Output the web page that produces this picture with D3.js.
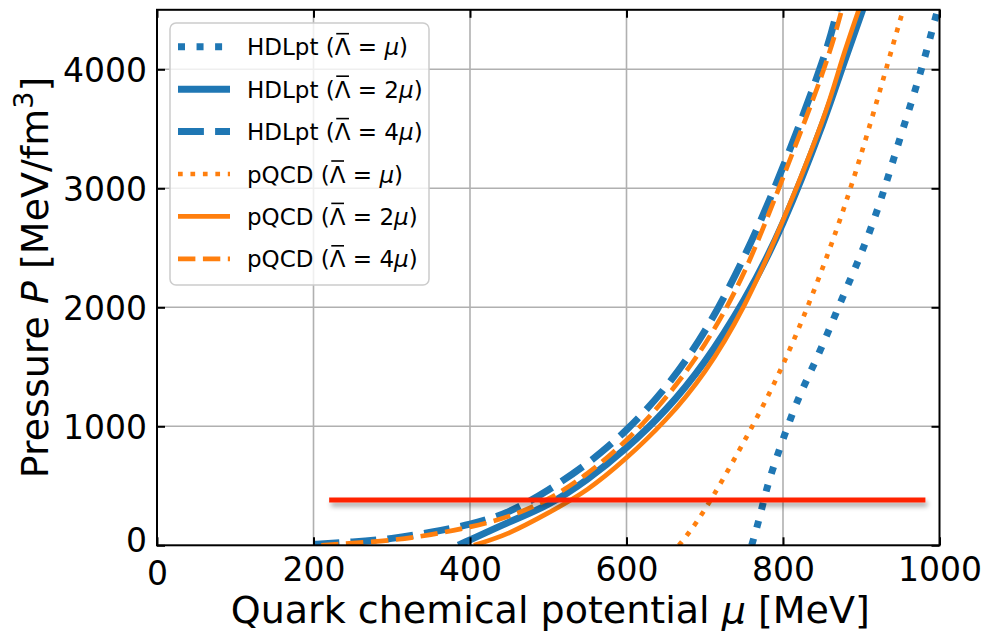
<!DOCTYPE html>
<html>
<head>
<meta charset="utf-8">
<script src="https://cdn.jsdelivr.net/npm/d3@7"></script>
<style>
  html, body { margin: 0; padding: 0; background: #fff; }
  svg { display: block; font-family: "DejaVu Sans", sans-serif; }
</style>
</head>
<body>
<svg id="chart" width="982" height="633"></svg>
<script>
// ---- data ----
const xTicks = [0, 200, 400, 600, 800, 1000];
const yTicks = [0, 1000, 2000, 3000, 4000];

const hdl1Mu = [760, 770, 780, 790, 800, 815, 830, 850, 875, 900, 925, 950, 975, 1000];
const hdl1P  = [0, 235, 490, 700, 890, 1155, 1385, 1675, 2065, 2455, 2905, 3430, 3960, 4560];

const hdl2Mu = [385, 400, 450, 500, 550, 600, 650, 700, 750, 800, 850, 875, 905];
const hdl2P  = [0, 45, 195, 345, 555, 820, 1140, 1545, 2060, 2710, 3530, 4000, 4560];

const hdl4Mu = [200, 250, 300, 350, 400, 450, 500, 550, 600, 650, 700, 750, 800, 850, 870];
const hdl4P  = [8, 28, 58, 110, 178, 285, 465, 690, 970, 1330, 1800, 2420, 3180, 4060, 4520];

const pq1Mu = [667, 700, 750, 800, 850, 900, 950, 958];
const pq1P  = [0, 300, 870, 1520, 2320, 3290, 4420, 4560];

const pq2Mu = [405, 450, 500, 550, 600, 650, 700, 750, 800, 850, 875, 900];
const pq2P  = [0, 105, 272, 470, 735, 1055, 1460, 2010, 2730, 3560, 4070, 4560];

const pq4Mu = [210, 250, 300, 350, 400, 450, 500, 550, 600, 650, 700, 750, 800, 850, 876];
const pq4P  = [0, 18, 45, 90, 155, 245, 390, 605, 885, 1240, 1690, 2290, 3090, 3960, 4520];

const limitMu = [220, 982];
const limitP  = [380, 380];

const seriesNames = [
  ["HDLpt", ""], ["HDLpt", "2"], ["HDLpt", "4"],
  ["pQCD", ""], ["pQCD", "2"], ["pQCD", "4"]
];

// ---- layout ----
const svg = d3.select("#chart");
const L = 157, R = 939.5, B = 545.3, T = 9.8;
const x = d3.scaleLinear().domain([0, 1000]).range([L, R]);
const y = d3.scaleLinear().domain([0, 4500]).range([B, T]);

const blue = "#1f77b4", orange = "#ff7f0e";
const wB = 7, wO = 4.7;
const styles = [
  {c: blue, w: wB, d: `${wB},${(1.65*wB).toFixed(2)}`},
  {c: blue, w: wB, d: null},
  {c: blue, w: wB, d: `${(3.7*wB).toFixed(2)},${(1.6*wB).toFixed(2)}`},
  {c: orange, w: wO, d: `${wO},${(1.65*wO).toFixed(2)}`},
  {c: orange, w: wO, d: null},
  {c: orange, w: wO, d: `${(3.7*wO).toFixed(2)},${(1.6*wO).toFixed(2)}`}
];
const seriesData = [
  [hdl1Mu, hdl1P], [hdl2Mu, hdl2P], [hdl4Mu, hdl4P],
  [pq1Mu, pq1P], [pq2Mu, pq2P], [pq4Mu, pq4P]
];

const defs = svg.append("defs");
defs.append("clipPath").attr("id", "clip")
  .append("rect").attr("x", L).attr("y", T).attr("width", R - L).attr("height", B - T);
const f = defs.append("filter").attr("id", "shadow").attr("filterUnits", "userSpaceOnUse")
  .attr("x", 0).attr("y", 0).attr("width", 982).attr("height", 633);
f.append("feDropShadow").attr("dx", 2).attr("dy", 4).attr("stdDeviation", 2.5)
  .attr("flood-color", "#000").attr("flood-opacity", 0.35);

// grid
const grid = svg.append("g");
grid.selectAll(".gx").data(xTicks.slice(1, -1)).enter().append("line")
  .attr("x1", d => x(d)).attr("x2", d => x(d)).attr("y1", B).attr("y2", T)
  .attr("stroke", "#b0b0b0").attr("stroke-width", 1.6);
grid.selectAll(".gy").data(yTicks.slice(1)).enter().append("line")
  .attr("x1", L).attr("x2", R).attr("y1", d => y(d)).attr("y2", d => y(d))
  .attr("stroke", "#b0b0b0").attr("stroke-width", 1.6);

// curves
const line = d3.line().x(d => x(d[0])).y(d => y(d[1])).curve(d3.curveNatural);
const plot = svg.append("g").attr("clip-path", "url(#clip)");
seriesData.forEach((s, i) => {
  const pts = s[0].map((m, k) => [m, s[1][k]]);
  const p = plot.append("path").datum(pts).attr("d", line)
    .attr("fill", "none").attr("stroke", styles[i].c).attr("stroke-width", styles[i].w)
    .attr("stroke-linecap", "butt").attr("stroke-linejoin", "round");
  if (styles[i].d) p.attr("stroke-dasharray", styles[i].d);
});

// limit line
svg.append("path").datum(limitMu.map((m, k) => [m, limitP[k]]))
  .attr("d", d3.line().x(d => x(d[0])).y(d => y(d[1])))
  .attr("stroke", "#ff2400").attr("stroke-width", 5).attr("fill", "none")
  .attr("filter", "url(#shadow)");

// axes
const tickFont = 33;
const fmt = d3.format("d");
const axB = svg.append("g").attr("transform", `translate(0,${B})`)
  .call(d3.axisBottom(x).tickValues(xTicks).tickFormat(fmt).tickSizeInner(-8).tickSizeOuter(0).tickPadding(12));
const axT = svg.append("g").attr("transform", `translate(0,${T})`)
  .call(d3.axisTop(x).tickValues(xTicks).tickSizeInner(-8).tickSizeOuter(0).tickFormat(""));
const axL = svg.append("g").attr("transform", `translate(${L},0)`)
  .call(d3.axisLeft(y).tickValues(yTicks).tickFormat(fmt).tickSizeInner(-8).tickSizeOuter(0).tickPadding(10));
const axR = svg.append("g").attr("transform", `translate(${R},0)`)
  .call(d3.axisRight(y).tickValues(yTicks).tickSizeInner(-8).tickSizeOuter(0).tickFormat(""));
[axB, axT, axL, axR].forEach(a => {
  a.select(".domain").remove();
  a.selectAll(".tick line").attr("stroke", "#000").attr("stroke-width", 2);
  a.selectAll("text").attr("font-family", "DejaVu Sans").attr("font-size", tickFont).attr("fill", "#000");
});
axL.selectAll(".tick text").attr("dy", "0.36em");
axB.selectAll(".tick text").attr("dy", "0.72em");
axL.selectAll(".tick").filter(d => d === 0).select("text").attr("dy", "0.2em");
axB.selectAll(".tick").filter(d => d === 0).select("text").attr("dy", "0.85em");

svg.append("rect").attr("x", L).attr("y", T).attr("width", R - L).attr("height", B - T)
  .attr("fill", "none").attr("stroke", "#000").attr("stroke-width", 2);

// axis labels
const labelFont = 38;
const xl = svg.append("text").attr("x", (L + R) / 2 + 2).attr("y", 623)
  .attr("text-anchor", "middle").attr("font-size", labelFont);
xl.append("tspan").text("Quark chemical potential ");
xl.append("tspan").attr("font-style", "italic").text("μ");
xl.append("tspan").text(" [MeV]");

const yl = svg.append("text").attr("transform", `translate(48,${(T + B) / 2}) rotate(-90)`)
  .attr("text-anchor", "middle").attr("font-size", labelFont);
yl.append("tspan").text("Pressure ");
yl.append("tspan").attr("font-style", "italic").text("P");
yl.append("tspan").text(" [MeV/fm");
yl.append("tspan").attr("font-size", 27).attr("dy", -15).text("3");
yl.append("tspan").attr("dy", 15).text("]");

// legend
const lg = svg.append("g");
lg.append("rect").attr("x", 170).attr("y", 23).attr("width", 259).attr("height", 262)
  .attr("rx", 6).attr("fill", "#fff").attr("fill-opacity", 0.8)
  .attr("stroke", "#cccccc").attr("stroke-width", 1.5);
const rowY = [46.7, 89.2, 131.6, 174, 216.4, 258.8];
seriesNames.forEach((nm, i) => {
  const yy = rowY[i];
  const h = lg.append("line").attr("x1", 178).attr("x2", 230).attr("y1", yy).attr("y2", yy)
    .attr("stroke", styles[i].c).attr("stroke-width", styles[i].w);
  if (styles[i].d) h.attr("stroke-dasharray", styles[i].d);
  const t = lg.append("text").attr("x", 247).attr("y", yy + 8.5).attr("font-size", 23);
  t.append("tspan").text(nm[0] + " (");
  t.append("tspan").text("Λ = " + nm[1]);
  t.append("tspan").attr("font-style", "italic").text("μ");
  t.append("tspan").text(")");
  // bar over Lambda
  const idx = nm[0].length + 2;
  let bx = 0, bw = 14;
  try {
    const r = t.node().getExtentOfChar(idx);
    bx = r.x; bw = r.width;
  } catch (e) { bx = 247 + 12.5 * nm[0].length; }
  lg.append("line").attr("x1", bx + 1.5).attr("x2", bx + bw - 1.5)
    .attr("y1", yy - 13).attr("y2", yy - 13)
    .attr("stroke", "#000").attr("stroke-width", 1.6);
});
</script>
</body>
</html>
